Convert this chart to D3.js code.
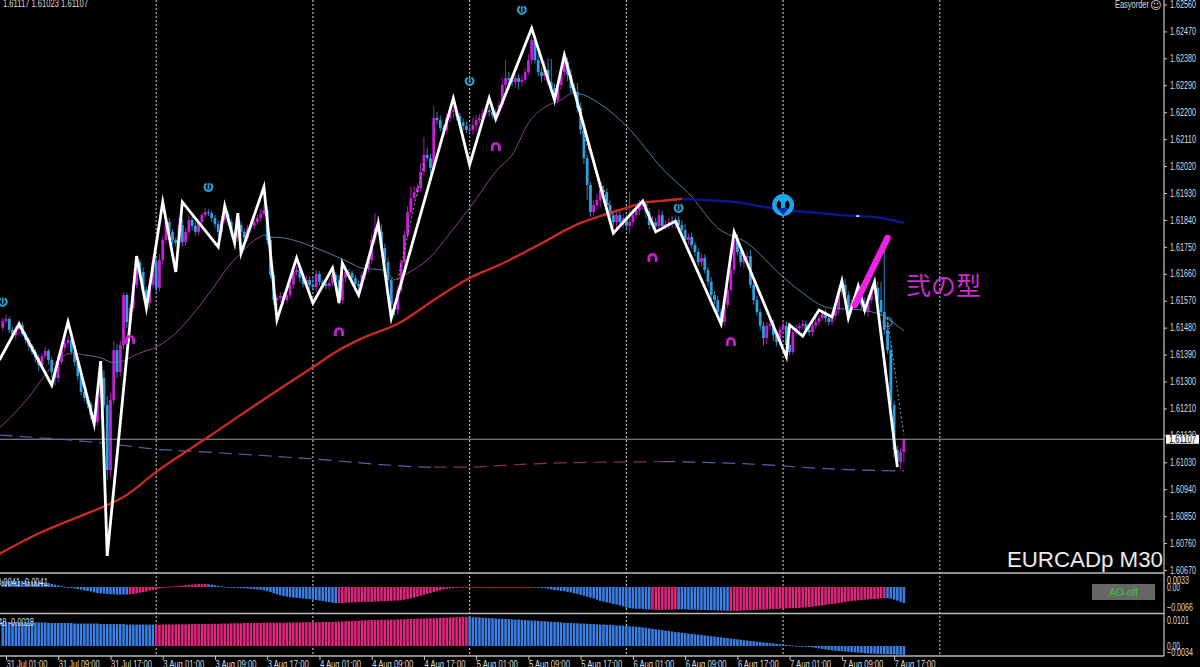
<!DOCTYPE html>
<html><head><meta charset="utf-8">
<script src="https://cdn.jsdelivr.net/npm/d3@7"></script>
<style>html,body{margin:0;padding:0;background:#000;overflow:hidden}svg{display:block}</style>
</head><body><svg id="c" width="1200" height="667"></svg>
<script>
const firstBar=-1;
const closes=[
1.61502,1.61509,1.61472,1.61455,1.61475,1.61489,1.61459,1.61439,1.61419,1.61399,
1.61379,1.61355,1.61385,1.61402,1.61372,1.61332,1.61312,1.61365,1.61412,1.61429,
1.61439,1.61399,1.61365,1.61318,1.61265,1.61245,1.61225,1.61188,1.61165,1.61245,
1.61312,1.61221,1.61004,1.61238,1.61405,1.61332,1.61422,1.61589,1.61499,1.61546,
1.61623,1.61699,1.61666,1.61606,1.61562,1.61623,1.61699,1.61613,1.61706,1.61773,
1.61833,1.61800,1.61773,1.61763,1.61823,1.61766,1.61800,1.61840,1.61820,1.61800,
1.61833,1.61856,1.61866,1.61863,1.61846,1.61826,1.61800,1.61840,1.61860,1.61833,
1.61796,1.61780,1.61823,1.61800,1.61780,1.61813,1.61820,1.61833,1.61846,1.61860,
1.61873,1.61773,1.61656,1.61572,1.61579,1.61586,1.61572,1.61589,1.61623,1.61666,
1.61673,1.61646,1.61626,1.61639,1.61623,1.61616,1.61659,1.61633,1.61626,1.61619,
1.61629,1.61656,1.61639,1.61572,1.61646,1.61666,1.61663,1.61646,1.61626,1.61619,
1.61656,1.61679,1.61706,1.61773,1.61813,1.61800,1.61746,1.61699,1.61639,1.61556,
1.61539,1.61606,1.61699,1.61790,1.61866,1.61913,1.61933,1.61947,1.62000,1.62057,
1.62047,1.62014,1.62181,1.62174,1.62147,1.62141,1.62181,1.62201,1.62207,1.62187,
1.62167,1.62154,1.62141,1.62141,1.62157,1.62174,1.62181,1.62197,1.62207,1.62201,
1.62191,1.62201,1.62224,1.62291,1.62314,1.62308,1.62301,1.62314,1.62301,1.62308,
1.62334,1.62374,1.62441,1.62374,1.62334,1.62321,1.62341,1.62301,1.62281,1.62241,
1.62291,1.62334,1.62368,1.62324,1.62281,1.62268,1.62214,1.62141,1.62047,1.61957,
1.61866,1.61890,1.61907,1.61940,1.61933,1.61890,1.61856,1.61833,1.61856,1.61833,
1.61846,1.61820,1.61833,1.61856,1.61873,1.61887,1.61893,1.61866,1.61823,1.61833,
1.61820,1.61856,1.61820,1.61826,1.61833,1.61826,1.61840,1.61823,1.61806,1.61773,
1.61783,1.61756,1.61733,1.61699,1.61713,1.61673,1.61633,1.61589,1.61572,1.61532,
1.61499,1.61556,1.61606,1.61673,1.61773,1.61733,1.61699,1.61713,1.61719,1.61623,
1.61572,1.61532,1.61486,1.61445,1.61486,1.61492,1.61455,1.61432,1.61472,1.61486,
1.61422,1.61399,1.61465,1.61479,1.61486,1.61492,1.61472,1.61465,1.61486,1.61499,
1.61512,1.61526,1.61512,1.61499,1.61519,1.61539,1.61599,1.61623,1.61589,1.61539,
1.61562,1.61586,1.61572,1.61556,1.61532,1.61572,1.61606,1.61613,1.61572,1.61532,
1.61472,1.61405,1.61221,1.61071,1.61031,1.61064,1.61107];
const firstOpen=1.61480;
const wickUp=[
10,15,8,10,12,15,10,8,10,8, 10,12,10,15,8,10,10,20,20,25, 15,10,8,12,10,15,8,8,10,10,
40,25,30,25,30,20,15,10,8,12, 10,15,10,15,10,15,20,15,20,15, 20,15,10,8,25,20,12,15,10,12,
8,10,15,10,8,10,12,15,15,12, 10,8,15,12,10,10,8,10,12,15, 20,15,10,12,10,12,10,10,15,20,
15,10,12,15,12,25,15,10,8,10, 12,15,10,15,20,15,10,8,10,12, 10,12,15,20,50,40,25,15,15,8,
10,15,10,15,20,40,20,15,30,60, 25,15,40,20,15,12,15,20,15,12, 10,12,15,20,25,15,12,15,20,12,
15,12,15,25,60,20,15,12,15,15, 15,20,12,15,20,15,30,40,77,15, 10,15,12,15,20,15,30,20,15,12,
10,15,20,25,15,12,15,15,20,12, 15,12,100,15,12,20,15,12,15,20, 15,20,15,12,15,20,15,12,15,20,
12,15,10,12,15,12,10,15,12,15, 12,20,15,20,30,20,15,12,15,20, 12,15,10,15,12,20,15,12,15,20,
15,12,15,12,10,15,12,10,12,15, 10,12,15,12,15,20,15,25,20,12, 15,12,15,12,25,20,15,15,20,60,
250,30,25,15,15,15,5];
const wickDown=[
12,8,10,10,15,20,10,12,15,10, 15,20,12,10,15,20,25,15,10,12, 15,10,12,15,10,12,15,15,10,12,
15,12,33,25,15,20,15,15,20,12, 10,12,15,12,15,20,12,15,12,15, 12,15,15,12,15,15,12,10,15,12,
10,12,8,10,12,12,15,12,10,12, 15,20,12,15,12,10,15,12,10,12, 10,15,12,15,20,12,15,12,10,15,
12,15,12,10,15,12,15,12,15,12, 12,10,20,15,12,15,10,12,15,15, 12,15,15,12,15,12,15,12,15,25,
20,15,12,15,12,15,12,12,15,12, 12,20,12,15,12,15,12,15,20,15, 12,15,12,10,15,20,12,15,12,15,
12,15,12,10,15,12,15,20,25,15, 12,10,15,12,15,20,15,12,15,20, 12,15,15,20,15,12,15,15,20,50,
15,12,15,25,15,12,15,15,20,15, 20,15,25,15,12,15,12,20,15,12, 15,12,15,12,15,12,15,12,15,12,
15,12,15,12,15,12,15,12,15,20, 15,12,10,12,15,12,15,20,15,12, 15,12,15,25,20,15,20,15,12,15,
15,12,10,12,15,12,10,12,15,10, 12,10,15,12,10,15,12,15,12,15, 12,15,12,15,12,15,12,10,15,12,
15,12,15,25,17,25,36];
const zigBars=[-2,4,14,19,27,29,31,40,43,48,52,54,65,67,70,71,72,79,83,89,94,100,102,103,108,114,118,137,142,148,150,161,168,171,186,195,199,205,219,223,239,240,244,249,253,256,258,261,263,266,273];
const zigPrices=[1.61372,1.61492,1.61288,1.61499,1.61158,1.61368,1.60717,1.61719,1.61546,1.61900,1.61666,1.61900,1.61750,1.61887,1.61763,1.61863,1.61729,1.61950,1.61506,1.61713,1.61562,1.61679,1.61562,1.61696,1.61589,1.61830,1.61512,1.62247,1.62024,1.62247,1.62177,1.62481,1.62241,1.62391,1.61796,1.61903,1.61800,1.61836,1.61492,1.61800,1.61382,1.61489,1.61452,1.61539,1.61516,1.61636,1.61512,1.61619,1.61539,1.61633,1.61014];
const maRedBars=[-2,9,26,31,36,46,62,81,94,102,108,121,132,142,151,162,176,182,190,195,200,207];
const maRedPrices=[1.60724,1.60787,1.60864,1.60887,1.60914,1.60998,1.61115,1.61255,1.61348,1.61405,1.61439,1.61499,1.61579,1.61646,1.61689,1.61750,1.61830,1.61853,1.61880,1.61897,1.61903,1.61910];
const maBlueBars=[207,213,223,238,249,260,266,275];
const maBluePrices=[1.61910,1.61907,1.61900,1.61873,1.61863,1.61853,1.61850,1.61830];
const thinPinkBars=[[-2,7,12,15,20,24],[36,41,46,52,59,63,69,72,75,79],[119,122,130,136,142,151,155,160,165,170,173]];
const thinPinkPrices=[[1.61145,1.61248,1.61322,1.61362,1.61395,1.61389],[1.61369,1.61395,1.61415,1.61462,1.61549,1.61606,1.61696,1.61729,1.61763,1.61790],[1.61639,1.61656,1.61716,1.61796,1.61880,1.62014,1.62057,1.62164,1.62217,1.62241,1.62264]];
const thinBlueBars=[[24,29,33,36],[79,81,85,90,94,105,109,115,119],[173,176,180,190,202,209,218,227,238,244,252,262,268,275]];
const thinBluePrices=[[1.61389,1.61379,1.61363,1.61369],[1.61790,1.61783,1.61780,1.61766,1.61750,1.61699,1.61679,1.61673,1.61639],[1.62264,1.62261,1.62241,1.62154,1.62000,1.61930,1.61813,1.61763,1.61649,1.61596,1.61546,1.61539,1.61522,1.61469]];
const longBars=[-2,29,46,62,94,121,128,131,142,154,173,190,201,203,216,238,243,262,275];
const longPrices=[1.61121,1.61095,1.61074,1.61064,1.61041,1.61018,1.61014,1.61014,1.61014,1.61021,1.61029,1.61031,1.61032,1.61032,1.61029,1.61018,1.61014,1.61004,1.61001];
const longRedFrom=131, longRedTo=201;
const dottedSets=[[[120,128],[1.61640,1.62030]],[[176,186],[1.62150,1.61850]],[[270,275],[1.61510,1.61120]]];
const arrowBars=[260,270];
const arrowPrices=[1.61556,1.61780];
const blueMarkBars=[-1,62,142,158,206];
const blueMarkPrices=[1.61566,1.61950,1.62304,1.62542,1.61880];
const ringBar=270, ringPrice=1.61499;
const bigBar=238, bigPrice=1.61890;
const pinkMarkBars=[38,102,150,198,222];
const pinkMarkPrices=[1.61439,1.61465,1.62084,1.61713,1.61432];
const aoValues=[
.0020,.0020,.0020,.0020,.0020,.0020,.0020,.0020,.0018,.0018,.0018,.0017,.0017,.0015,.0013,
.0010,.0008,.0005,.0003,.0001,
-.0002,-.0003,-.0005,-.0007,-.0009,-.0011,-.0013,-.0015,-.0018,-.0020,
-.0021,-.0022,-.0023,-.0024,-.0024,-.0025,-.0025,-.0025,-.0025,
-.0024,-.0023,-.0021,-.0019,-.0017,-.0015,-.0012,-.0010,-.0007,
-.0005,-.0003,-.0001,.0001,.0002,.0003,.0004,.0005,.0006,.0007,.0008,.0009,.0010,.0010,.0010,
.0009,.0008,.0006,.0004,.0002,.0001,-.0001,-.0002,-.0002,-.0003,-.0004,-.0004,-.0005,-.0006,-.0007,-.0008,-.0009,
-.0011,-.0014,-.0017,-.0021,-.0024,-.0027,-.0030,-.0032,-.0034,-.0035,-.0036,-.0037,-.0038,-.0039,-.0040,-.0042,-.0043,-.0045,-.0046,-.0048,-.0050,-.0052,-.0053,
-.0053,-.0053,-.0052,-.0052,-.0051,-.0051,-.0050,-.0050,-.0050,
-.0049,-.0049,-.0048,-.0048,-.0047,-.0047,-.0046,-.0046,-.0045,-.0045,
-.0044,-.0042,-.0040,-.0038,-.0035,-.0032,-.0029,-.0026,-.0023,-.0020,-.0017,-.0014,-.0011,-.0008,
-.0006,-.0005,-.0004,-.0003,-.0002,-.0002,-.0001,-.0001,-.0001,-.0001,-.0001,-.0001,-.0001,-.0001,-.0001,-.0001,-.0001,-.0001,-.0001,-.0001,-.0001,-.0001,-.0001,-.0001,-.0001,-.0001,-.0001,
-.0001,-.0002,-.0003,-.0004,-.0006,-.0008,
-.0010,-.0011,-.0013,-.0014,-.0016,-.0018,-.0021,
-.0023,-.0026,-.0029,-.0032,-.0035,-.0038,-.0042,-.0046,
-.0048,-.0051,-.0053,-.0056,-.0058,-.0061,-.0064,-.0068,
-.0070,-.0071,-.0072,-.0072,-.0073,-.0074,-.0074,
-.0075,-.0075,-.0076,-.0076,-.0075,-.0075,-.0075,-.0074,
-.0074,-.0074,-.0074,-.0075,-.0075,-.0075,-.0076,-.0076,-.0076,-.0077,-.0077,-.0077,-.0078,-.0078,-.0078,-.0079,
-.0079,-.0079,-.0079,-.0078,-.0078,-.0077,-.0077,-.0076,-.0076,-.0075,-.0075,-.0074,
-.0074,-.0073,-.0073,-.0072,-.0071,-.0071,-.0070,-.0070,-.0069,-.0069,
-.0068,-.0067,-.0066,-.0065,-.0064,-.0062,-.0061,-.0059,-.0058,-.0056,
-.0055,-.0053,-.0052,-.0050,-.0048,-.0046,-.0045,-.0044,-.0043,-.0042,
-.0041,-.0040,-.0040,-.0039,-.0038,-.0037,
-.0037,-.0039,-.0042,-.0045,-.0049,-.0053];
const aoPinkRanges=[[38,61],[102,161],[198,205],[222,269]];
const macdValues=[
.0091,.0091,.0091,.0091,.0091,.0091,
.0089,.0089,.0089,.0089,.0089,.0089,.0089,.0089,
.0087,.0087,.0087,.0087,.0087,.0087,.0087,.0087,
.0085,.0085,.0085,.0085,.0085,.0085,.0085,.0085,
.0083,.0083,.0083,.0083,.0083,.0083,.0083,.0083,
.0081,.0081,.0081,.0081,.0081,.0081,.0081,.0081,.0081,.0081,
.0081,.0081,.0081,.0082,.0082,.0082,.0082,.0082,.0082,.0083,.0083,.0083,.0083,.0083,.0083,.0083,
.0084,.0084,.0084,.0085,.0085,.0085,.0086,.0086,
.0086,.0086,.0087,.0087,.0087,.0087,.0087,.0087,.0088,.0088,.0088,.0088,.0088,.0088,.0088,
.0089,.0089,.0089,.0089,.0089,.0090,.0090,.0090,.0090,.0090,.0090,.0091,.0091,.0091,.0091,
.0092,.0092,.0093,.0094,.0094,.0095,.0095,.0096,.0097,.0097,
.0098,.0098,.0098,.0099,.0099,.0099,.0100,.0100,.0100,.0101,.0101,
.0101,.0102,.0102,.0102,.0103,.0103,
.0104,.0104,.0105,.0105,.0106,.0106,.0107,.0107,.0108,.0108,.0109,.0109,.0110,.0110,
.0110,.0109,.0109,.0108,.0107,.0106,.0105,.0105,.0104,.0103,
.0103,.0102,.0102,.0101,.0100,.0100,.0099,.0098,.0097,.0096,
.0096,.0095,.0094,.0094,.0093,.0092,.0091,.0090,.0089,.0088,.0087,
.0087,.0086,.0086,.0085,.0085,.0084,.0083,.0083,.0082,.0081,
.0081,.0080,.0080,.0079,.0078,.0078,.0077,.0076,
.0075,.0074,.0073,.0072,.0070,.0069,.0067,.0065,
.0063,.0062,.0060,.0058,.0057,.0055,.0053,.0052,.0050,
.0049,.0047,.0046,.0044,.0043,.0042,.0040,.0039,.0037,.0036,.0034,
.0033,.0031,.0030,.0028,.0027,.0025,.0024,.0022,.0021,.0019,
.0018,.0016,.0015,.0014,.0012,.0011,.0010,.0008,.0007,.0005,
.0004,.0003,.0002,.0001,.0000,
-.0002,-.0003,-.0004,-.0005,-.0007,-.0009,-.0011,-.0013,-.0015,-.0017,
-.0018,-.0019,-.0020,-.0021,-.0022,-.0023,-.0024,-.0025,-.0026,-.0027,-.0028,
-.0029,-.0029,-.0030,-.0030,-.0031,-.0031,-.0032,-.0032,-.0033,-.0033,-.0034];
const macdPinkRanges=[[46,141]];
const priceTicks=[1.62560,1.62470,1.62380,1.62290,1.62200,1.62110,1.62020,1.61930,1.61840,1.61750,1.61660,1.61570,1.61480,1.61390,1.61300,1.61210,1.61120,1.61030,1.60940,1.60850,1.60760,1.60670];
const timeLabels=["31 Jul 01:00","31 Jul 09:00","31 Jul 17:00","3 Aug 01:00","3 Aug 09:00","3 Aug 17:00","4 Aug 01:00","4 Aug 09:00","4 Aug 17:00","5 Aug 01:00","5 Aug 09:00","5 Aug 17:00","6 Aug 01:00","6 Aug 09:00","6 Aug 17:00","7 Aug 01:00","7 Aug 09:00","7 Aug 17:00"];
const timeTickBars=[0,16,32,48,64,80,96,112,128,144,160,176,192,208,224,240,256,272];
const gridBars=[-2,46,94,142,190,238,286];
const aoTicks=[0.0033,0,-0.0066];
const macdTicks=[0.0101,0,-0.0034];

const W=1200,H=667,axisX=1164,sans='"Liberation Sans",Arial,sans-serif';
const colUp='#c81fd8',colDown='#2f9fe0',barBlue='#3a80e6',barPink='#e2267f',txt='#dcdcdc';
const svg=d3.select('#c');
svg.append('rect').attr('width',W).attr('height',H).attr('fill','#000');
const x=d3.scaleLinear().domain([0,275]).range([6,903.9]);
const y=d3.scaleLinear().domain([1.6067,1.6256]).range([570,4.5]);
const yAo=d3.scaleLinear().domain([-0.0066,0.0033]).range([607,577]);
const yMd=d3.scaleLinear().domain([-0.0034,0.0101]).range([655,619.3]);
const lineOf=(bars,vals,sc,curve)=>d3.line().x((d,i)=>x(bars[i])).y(d=>sc(d)).curve(curve||d3.curveLinear)(vals);
const mono=d3.curveMonotoneX;

svg.append('g').selectAll('line').data(gridBars).join('line')
 .attr('x1',d=>x(d)).attr('x2',d=>x(d)).attr('y1',0).attr('y2',656)
 .attr('stroke','#d8d8d8').attr('stroke-width',1).attr('stroke-dasharray','2,2');

const candles=closes.map((c,i)=>{const o=i?closes[i-1]:firstOpen;return {i:i+firstBar,o,c,h:Math.max(o,c)+wickUp[i]*1e-5,l:Math.min(o,c)-wickDown[i]*1e-5};});
const cg=svg.append('g');
cg.selectAll('line').data(candles).join('line')
 .attr('x1',d=>x(d.i)).attr('x2',d=>x(d.i)).attr('y1',d=>y(d.h)).attr('y2',d=>y(d.l))
 .attr('stroke',d=>d.c>=d.o?colUp:colDown).attr('stroke-width',1).attr('opacity',.85);
cg.selectAll('rect').data(candles).join('rect')
 .attr('x',d=>x(d.i)-1.4).attr('width',2.8)
 .attr('y',d=>y(Math.max(d.o,d.c))).attr('height',d=>Math.max(1,Math.abs(y(d.o)-y(d.c))))
 .attr('fill',d=>d.c>=d.o?colUp:colDown);

svg.append('line').attr('x1',0).attr('x2',axisX).attr('y1',y(1.61107)).attr('y2',y(1.61107)).attr('stroke','#9a9a9a').attr('stroke-width',1);

const split=(lo,hi)=>longBars.map((b,i)=>[b,longPrices[i]]).filter(p=>p[0]>=lo&&p[0]<=hi);
[[-2,longRedFrom,'#5560b0'],[longRedFrom,longRedTo,'#8d3040'],[longRedTo,275,'#5560b0']].forEach(([a,b,c])=>{
 const s=split(a,b);
 svg.append('path').attr('fill','none').attr('stroke',c).attr('stroke-width',1.2).attr('stroke-dasharray','13,7')
  .attr('d',lineOf(s.map(p=>p[0]),s.map(p=>p[1]),y,mono));
});

thinPinkBars.forEach((b,k)=>svg.append('path').attr('fill','none').attr('stroke','#8e3f92').attr('stroke-width',1).attr('d',lineOf(b,thinPinkPrices[k],y,mono)));
thinBlueBars.forEach((b,k)=>svg.append('path').attr('fill','none').attr('stroke','#4f7f9c').attr('stroke-width',1).attr('d',lineOf(b,thinBluePrices[k],y,mono)));

svg.append('path').attr('fill','none').attr('stroke','#c92a22').attr('stroke-width',2.4).attr('d',lineOf(maRedBars,maRedPrices,y,mono));
svg.append('path').attr('fill','none').attr('stroke','#0a1890').attr('stroke-width',2.4).attr('d',lineOf(maBlueBars,maBluePrices,y,mono));

dottedSets.forEach(([b,v])=>svg.append('path').attr('fill','none').attr('stroke','#bbb').attr('stroke-width',1).attr('stroke-dasharray','1.5,3').attr('d',lineOf(b,v,y)));

svg.append('path').attr('fill','none').attr('stroke','#fff').attr('stroke-width',2.8).attr('stroke-linejoin','miter').attr('stroke-miterlimit',6).attr('d',lineOf(zigBars,zigPrices,y));

svg.append('path').attr('fill','none').attr('stroke','#f21fe4').attr('stroke-width',6.5).attr('stroke-linecap','round').attr('d',lineOf(arrowBars,arrowPrices,y));

const arc=d3.arc();
blueMarkBars.forEach((b,i)=>{
 const g=svg.append('g').attr('transform',`translate(${x(b)},${y(blueMarkPrices[i])})`);
 g.append('path').attr('d',arc({innerRadius:2.8,outerRadius:5,startAngle:0.5,endAngle:2*Math.PI-0.5})).attr('fill','#2e9fd0');
 g.append('line').attr('x1',0).attr('x2',0).attr('y1',-4).attr('y2',2).attr('stroke','#2e9fd0').attr('stroke-width',1.6);
});
pinkMarkBars.forEach((b,i)=>{
 const g=svg.append('g').attr('transform',`translate(${x(b)},${y(pinkMarkPrices[i])})`);
 g.append('path').attr('d',arc({innerRadius:2.2,outerRadius:5,startAngle:-Math.PI/2-0.35,endAngle:Math.PI/2+0.35})).attr('fill','#c41fd0');
 g.append('rect').attr('x',-5).attr('y',0).attr('width',2.8).attr('height',4).attr('fill','#c41fd0');
 g.append('rect').attr('x',2.2).attr('y',0).attr('width',2.8).attr('height',4).attr('fill','#c41fd0');
});
svg.append('circle').attr('cx',x(ringBar)).attr('cy',y(ringPrice)).attr('r',4.5).attr('fill','none').attr('stroke','#2e9fd0').attr('stroke-width',1.3);
const big=svg.append('g').attr('transform',`translate(${x(bigBar)},${y(bigPrice)})`);
big.append('circle').attr('r',11).attr('fill','#1ea6ea');
big.append('path').attr('d',arc({innerRadius:0,outerRadius:6.5,startAngle:-2.4,endAngle:2.4})).attr('fill','#000').attr('transform','rotate(180)');
big.append('rect').attr('x',-2).attr('y',-11).attr('width',4).attr('height',16).attr('fill','#1ea6ea');
big.append('path').attr('d',d3.line()([[-6,3],[6,3],[0,10]])).attr('fill','#0d2fa8');

svg.append('line').attr('x1',x(260.4)).attr('x2',x(261.3)).attr('y1',y(1.61853)).attr('y2',y(1.61853)).attr('stroke','#fff').attr('stroke-width',1.6);
svg.append('text').attr('x',906).attr('y',295).attr('fill','#cf2bcf').attr('font-family','"Noto Sans CJK JP"').attr('font-weight',400).attr('font-size',25).text('弐の型');
svg.append('text').attr('x',1163).attr('y',567).attr('text-anchor','end').attr('fill','#ececec').attr('font-family',sans).attr('font-size',22.3).text('EURCADp M30');
svg.append('text').attr('x',3).attr('y',7).attr('fill',txt).attr('font-family',sans).attr('font-size',10).attr('textLength',85).attr('lengthAdjust','spacingAndGlyphs').text('1.61117 1.61023 1.61107');
svg.append('text').attr('x',1115).attr('y',7.5).attr('fill',txt).attr('font-family',sans).attr('font-size',10).attr('textLength',34).attr('lengthAdjust','spacingAndGlyphs').text('Easyorder');
svg.append('text').attr('x',1150).attr('y',9).attr('fill',txt).attr('font-family','"DejaVu Sans"').attr('font-size',11).text('☺');

const inRanges=(i,r)=>r.some(a=>i>=a[0]&&i<=a[1]);
const drawBars=(vals,sc,ranges)=>{
 svg.append('g').selectAll('rect').data(vals).join('rect')
  .attr('x',(d,i)=>x(i+firstBar)-1.25).attr('width',2.5)
  .attr('y',d=>Math.min(sc(0),sc(d))).attr('height',d=>Math.max(.8,Math.abs(sc(d)-sc(0))))
  .attr('fill',(d,i)=>inRanges(i+firstBar,ranges)?barPink:barBlue);
};
drawBars(aoValues,yAo,aoPinkRanges);
drawBars(macdValues,yMd,macdPinkRanges);
svg.append('text').attr('x',-3).attr('y',585.5).attr('fill',txt).attr('font-family',sans).attr('font-size',10).attr('textLength',51).attr('lengthAdjust','spacingAndGlyphs').text('0.0041 -0.0041');
svg.append('text').attr('x',-2).attr('y',625.5).attr('fill',txt).attr('font-family',sans).attr('font-size',10).attr('textLength',36).attr('lengthAdjust','spacingAndGlyphs').text('48 -0.0028');

[573,613.5,656].forEach(v=>svg.append('line').attr('x1',0).attr('x2',axisX).attr('y1',v).attr('y2',v).attr('stroke','#b8b8b8').attr('stroke-width',1.5));
svg.append('line').attr('x1',axisX).attr('x2',axisX).attr('y1',0).attr('y2',656).attr('stroke','#c8c8c8').attr('stroke-width',1.2);

svg.append('rect').attr('x',1092).attr('y',584).attr('width',63).attr('height',16).attr('fill','#666');
svg.append('text').attr('x',1123.5).attr('y',596).attr('text-anchor','middle').attr('fill','#35c93a').attr('font-family',sans).attr('font-size',10).text('AO-off');

const styleAxis=(g,len)=>{
 g.select('.domain').remove();
 g.selectAll('.tick line').attr('stroke','#c8c8c8');
 g.selectAll('.tick text').attr('fill',txt).attr('font-family',sans).attr('font-size',10).attr('textLength',len).attr('lengthAdjust','spacingAndGlyphs');
};
const axP=svg.append('g').attr('transform',`translate(${axisX},0)`).call(d3.axisRight(y).tickValues(priceTicks).tickFormat(d3.format('.5f')).tickSize(3).tickPadding(3));
styleAxis(axP,26);
const axA=svg.append('g').attr('transform',`translate(${axisX},0)`).call(d3.axisRight(yAo).tickValues(aoTicks).tickFormat(d=>d===0?'0.00':d3.format('.4f')(d)).tickSize(0).tickPadding(3));
styleAxis(axA,null); axA.selectAll('.tick text').attr('textLength',d=>d===0?13:(d<0?26:22)).attr('transform',d=>d>0?'translate(0,3)':null);
const axM=svg.append('g').attr('transform',`translate(${axisX},0)`).call(d3.axisRight(yMd).tickValues(macdTicks).tickFormat(d=>d===0?'0.00':d3.format('.4f')(d)).tickSize(0).tickPadding(3));
styleAxis(axM,null); axM.selectAll('.tick text').attr('textLength',d=>d===0?13:(d<0?26:22)).attr('transform',d=>d>0?'translate(0,1)':(d<0?'translate(0,-3)':null));
const axT=svg.append('g').attr('transform','translate(0,656)').call(d3.axisBottom(x).tickValues(timeTickBars).tickFormat((d,i)=>timeLabels[i]).tickSize(4).tickPadding(1));
styleAxis(axT,41);
axT.selectAll('.tick text').attr('text-anchor','start');

svg.append('rect').attr('x',1166).attr('y',y(1.61107)-4.5).attr('width',33).attr('height',9).attr('fill','#fff');
svg.append('text').attr('x',1169).attr('y',y(1.61107)+3.5).attr('fill','#000').attr('font-family',sans).attr('font-size',10).attr('textLength',27).attr('lengthAdjust','spacingAndGlyphs').text('1.61107');
</script></body></html>
